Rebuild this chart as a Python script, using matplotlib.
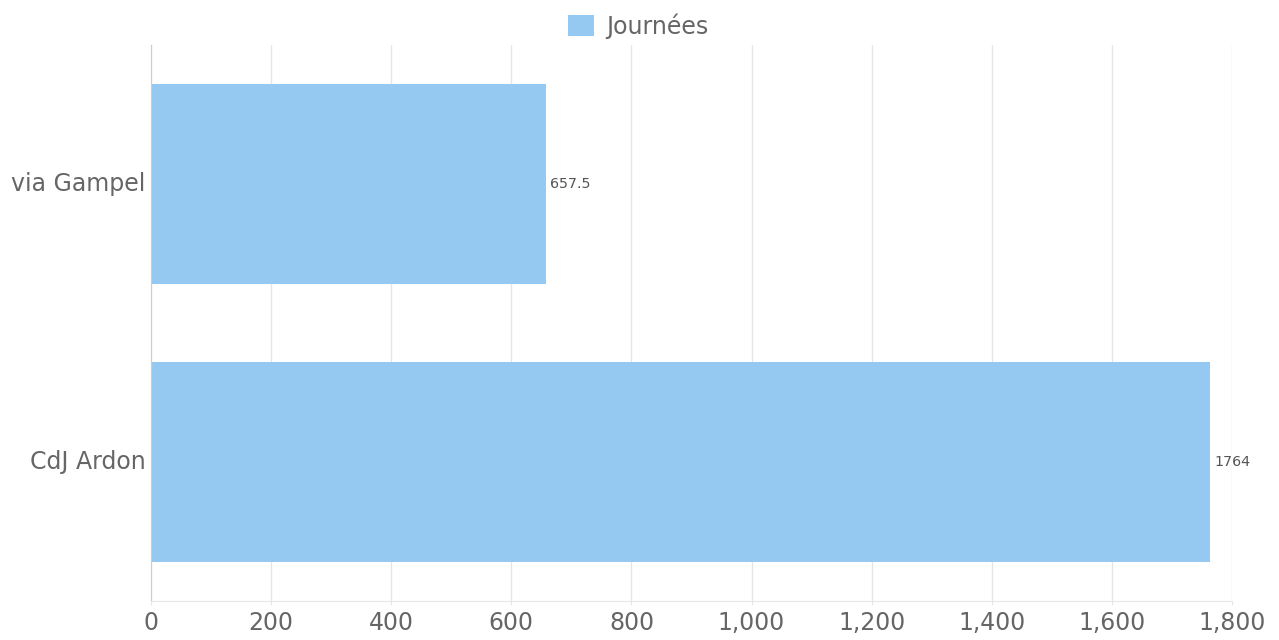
import matplotlib
matplotlib.use("Agg")
import matplotlib.pyplot as plt
import matplotlib.transforms as mtransforms
from matplotlib.ticker import FuncFormatter

categories = ["via Gampel", "CdJ Ardon"]
values = [657.5, 1764]
value_labels = ["657.5", "1764"]
series_name = "Journées"
xticks = [0, 200, 400, 600, 800, 1000, 1200, 1400, 1600, 1800]

plt.rcParams['font.family'] = ['DejaVu Sans']

fig = plt.figure(figsize=(12.79, 6.40), dpi=100)
ax = fig.add_axes([151/1279, 1 - 601/640, (1232-151)/1279, (601-45)/640])

color = "#95C9F2"
ypos = list(range(len(categories)))
bars = ax.barh(ypos, values, height=0.723, color=color, label=series_name, zorder=2)

ax.set_ylim(len(categories) - 0.5, -0.5)
ax.set_xlim(0, 1800)
ax.set_yticks(ypos)
ax.set_yticklabels(categories, fontsize=17, color="#666666")
ax.set_xticks(xticks)
ax.xaxis.set_major_formatter(FuncFormatter(lambda v, p: f"{int(v):,}"))
ax.tick_params(axis='x', labelsize=17, labelcolor="#666666", length=3, color="#e6e6e6", pad=4)
ax.tick_params(axis='y', length=0, pad=4)

offset = mtransforms.ScaledTranslation(0, 3/100, fig.dpi_scale_trans)
for lbl in ax.get_yticklabels():
    lbl.set_transform(lbl.get_transform() + offset)

ax.grid(axis='x', color="#e6e6e6", linewidth=1, zorder=0)
ax.set_axisbelow(True)
for s in ["top", "right"]:
    ax.spines[s].set_visible(False)
ax.spines["left"].set_color("#cccccc")
ax.spines["bottom"].set_color("#e6e6e6")

for b, lab in zip(bars, value_labels):
    ax.text(b.get_width() + 7, b.get_y() + b.get_height() / 2, lab,
            va="center", ha="left", fontsize=10.3, color="#555555")

leg = fig.legend(handles=[bars], labels=[series_name], loc="center",
                 bbox_to_anchor=(638/1279, 1 - 26/640), frameon=False,
                 fontsize=17, handlelength=1.1, handleheight=1.0,
                 handletextpad=0.5, labelcolor="#666666")

fig.savefig("out.png", dpi=100)
